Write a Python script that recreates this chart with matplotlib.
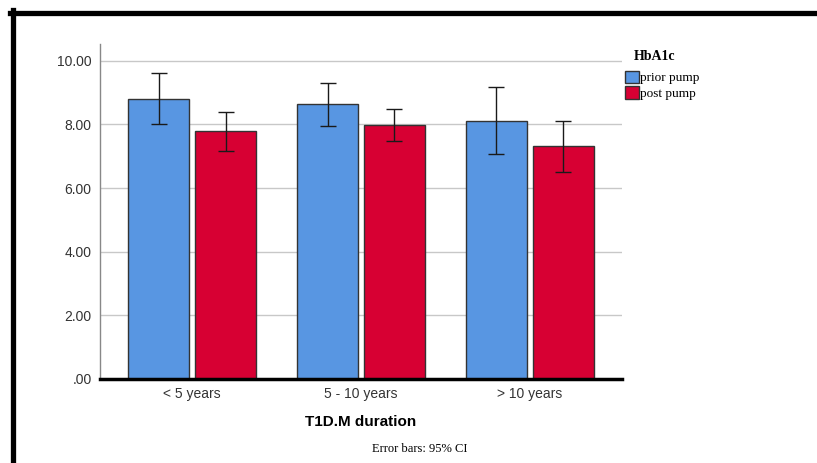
import numpy as np
import matplotlib.pyplot as plt
from matplotlib.lines import Line2D
from matplotlib.patches import Patch
from matplotlib.ticker import FuncFormatter

groups = ["< 5 years", "5 - 10 years", "> 10 years"]
series = ["prior pump", "post pump"]
means = {
    "prior pump": [8.81, 8.63, 8.11],
    "post pump": [7.79, 7.99, 7.31],
}
ci_low = {
    "prior pump": [8.02, 7.96, 7.07],
    "post pump": [7.17, 7.48, 6.50],
}
ci_high = {
    "prior pump": [9.61, 9.31, 9.17],
    "post pump": [8.40, 8.49, 8.12],
}
colors = {"prior pump": "#5896e2", "post pump": "#d70033"}

W, H = 817, 463
fig = plt.figure(figsize=(W / 100, H / 100), dpi=100)

# axes placed in pixel units
l, r, b, t = 100, 622, 379, 44
ax = fig.add_axes([l / W, 1 - b / H, (r - l) / W, (b - t) / H])

x = np.arange(len(groups))
width = 0.36
offs = [-0.198, 0.198]
for s, o in zip(series, offs):
    m = np.array(means[s])
    lo = m - np.array(ci_low[s])
    hi = np.array(ci_high[s]) - m
    ax.bar(x + o, m, width, color=colors[s], edgecolor="#333333", linewidth=1.0, zorder=2)
    ax.errorbar(x + o, m, yerr=[lo, hi], fmt="none", ecolor="#1a1a1a",
                elinewidth=1.0, capsize=6, capthick=1.0, zorder=3)

ax.set_xlim(-0.545, 2.545)
ax.set_ylim(0, 10.53)
ax.set_yticks([0, 2, 4, 6, 8, 10])
ax.yaxis.set_major_formatter(FuncFormatter(lambda v, p: ".00" if v == 0 else f"{v:.2f}"))
ax.set_xticks(x)
ax.set_xticklabels(groups)
ax.grid(axis="y", color="#c8c8c8", linewidth=1.0, zorder=0)
ax.set_axisbelow(True)

for sp in ["top", "right"]:
    ax.spines[sp].set_visible(False)
ax.spines["left"].set_color("#888888")
ax.spines["left"].set_linewidth(1.0)
ax.spines["bottom"].set_color("black")
ax.spines["bottom"].set_linewidth(2.5)
ax.tick_params(axis="both", length=0, labelsize=10, colors="#333333",
               labelfontfamily="Liberation Sans")
ax.tick_params(axis="y", pad=6)
ax.tick_params(axis="x", pad=6)

ax.set_xlabel("T1D.M duration", fontsize=11, fontweight="bold", family="Liberation Sans", labelpad=10)

fig.text(420 / W, 1 - 449 / H, "Error bars: 95% CI", ha="center", va="center",
         fontsize=9, family="Liberation Serif")

# legend with its title drawn separately
fig.text(655 / W, 1 - 57 / H, "HbA1c", ha="center", va="center",
         fontsize=10, fontweight="bold", family="Liberation Serif")
handles = [Patch(facecolor=colors[s], edgecolor="#333333", linewidth=1.0) for s in series]
leg = fig.legend(handles, series, loc="upper left",
                 bbox_to_anchor=(622 / W, 1 - 68 / H), frameon=False,
                 prop={"family": "Liberation Serif", "size": 9.5},
                 handlelength=1.1, handleheight=1.1, handletextpad=0.1, labelspacing=0.12,
                 borderaxespad=0, borderpad=0.2)

# frame lines on the left and top
fig.add_artist(Line2D([12.5 / W, 12.5 / W], [0, 1 - 10 / H], color="black", linewidth=3.8,
                      transform=fig.transFigure))
fig.add_artist(Line2D([10 / W, 1], [1 - 12.5 / H, 1 - 12.5 / H], color="black", linewidth=3.8,
                      transform=fig.transFigure))

fig.savefig("out.png", dpi=100)
